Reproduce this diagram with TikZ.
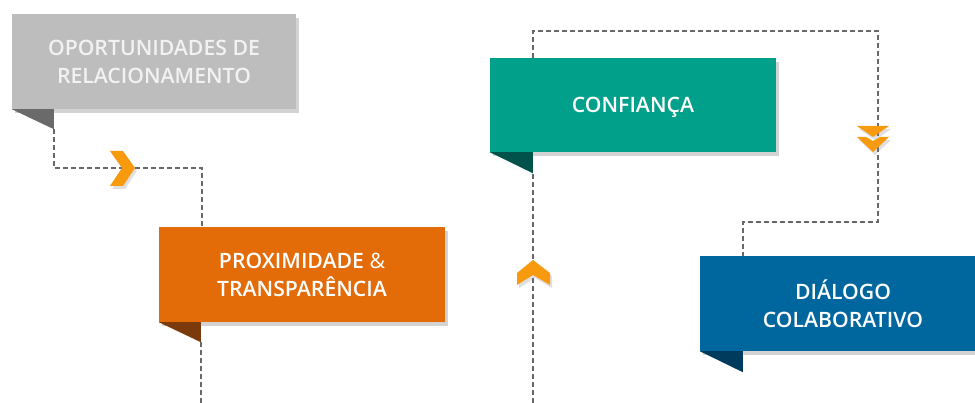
\documentclass[tikz,border=0pt]{standalone}
\usepackage{fontspec}
\setmainfont{Open Sans}[BoldFont={Open Sans Semibold}]
\usetikzlibrary{shadows}
\definecolor{grayfill}{HTML}{BDBDBD}
\definecolor{grayfold}{HTML}{6A6A6A}
\definecolor{orangefill}{HTML}{E36C09}
\definecolor{orangefold}{HTML}{7A3A0C}
\definecolor{tealfill}{HTML}{00A08A}
\definecolor{tealfold}{HTML}{00524A}
\definecolor{bluefill}{HTML}{00669E}
\definecolor{bluefold}{HTML}{003B5E}
\definecolor{dashgray}{HTML}{686868}
\definecolor{chevorange}{HTML}{F79A0E}
\definecolor{lighttext}{HTML}{F2F2F2}
\tikzset{
  ribbon/.style={minimum width=286pt, minimum height=95pt, inner sep=0pt, align=center,
    text=white, font=\fontsize{21.2}{28}\selectfont\bfseries, text depth=0pt,
    drop shadow={shadow xshift=3pt, shadow yshift=-4pt, opacity=0.35}},
  conn/.style={draw=dashgray, line width=1.4pt, dash pattern=on 5pt off 3pt},
  chev/.style={fill=chevorange, drop shadow={shadow xshift=2pt, shadow yshift=-3pt, opacity=0.25}}
}
\begin{document}
\begin{tikzpicture}[x=1pt,y=-1pt]
\useasboundingbox (0,0) rectangle (975,403);
\clip (0,0) rectangle (975,403);
\coordinate (bottom) at (0,403);
\coordinate (top) at (0,31);
\coordinate (c2) at (878,222);

% boxes
\node[ribbon, fill=grayfill, text=lighttext, minimum width=284pt] (gray) at (154,61.5) {OPORTUNIDADES DE\\RELACIONAMENTO};
\node[ribbon, fill=orangefill] (orange) at (302,274.5) {PROXIMIDADE {\mdseries\&}\\TRANSPARÊNCIA};
\node[ribbon, fill=tealfill, minimum height=94pt] (teal) at (633,105) {CONFIANÇA};
\node[ribbon, fill=bluefill] (blue) at (843,303.5) {DIÁLOGO\\COLABORATIVO};

% folds
\fill[grayfold] (gray.south west) -- ++(42,0) -- ++(0,20) -- cycle;
\fill[orangefold] (orange.south west) -- ++(42,0) -- ++(0,20) -- cycle;
\fill[tealfold] (teal.south west) -- ++(43,0) -- ++(0,21) -- cycle;
\fill[bluefold] (blue.south west) -- ++(43,0) -- ++(0,21) -- cycle;

% connection points
\path (gray.south west) ++(42,20) coordinate (gtip);
\path (orange.north west) ++(43,0) coordinate (oin);
\path (orange.south west) ++(42,20) coordinate (otip);
\path (teal.south west) ++(43,21) coordinate (ttip);
\path (teal.north west) ++(43,0) coordinate (tin);
\path (blue.north west) ++(43,0) coordinate (bin);

% connectors
\draw[conn] (gtip) -- ++(0,39) -| (oin);
\draw[conn] (otip) -- (otip |- bottom);
\draw[conn] (ttip |- bottom) -- (ttip);
\draw[conn] (tin) -- (tin |- top) -| (c2) -| (bin);

% chevrons
\fill[chev] (110,151) -- (123,151) -- (135,168) -- (123,186) -- (110,186) -- (122,168) -- cycle;
\fill[chev] (533,260) -- (550,273) -- (550,285) -- (533,275) -- (517,285) -- (517,273) -- cycle;
\fill[chev] (857,137) -- (866,137) -- (873,141) -- (880,137) -- (889,137) -- (873,152) -- cycle;
\fill[chev] (857,126) -- (889,126) -- (873,137) -- cycle;
\end{tikzpicture}
\end{document}
